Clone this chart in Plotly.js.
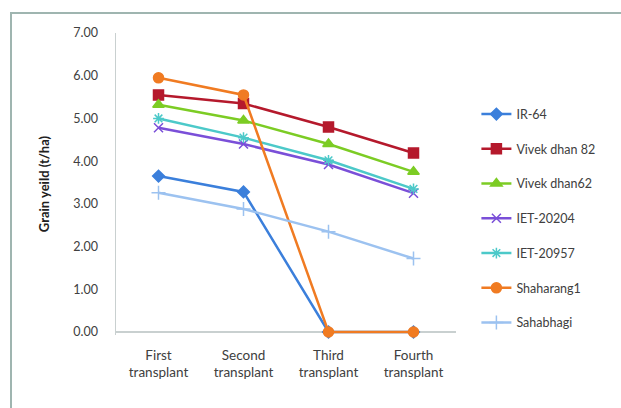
<!DOCTYPE html>
<html>
<head>
<meta charset="utf-8">
<script src="https://cdn.plot.ly/plotly-3.0.1.min.js"></script>
<style>
  html, body { margin: 0; padding: 0; background: #fff; }
  #wrap { position: relative; width: 621px; height: 408px; }
  #frame { position: absolute; left: 10px; top: 12px; right: -2px; bottom: -2px;
           border-top: 2px solid #9fb5b0; border-left: 2px solid #9fb5b0; pointer-events: none; }
  #chart { position: absolute; left: 0; top: 0; width: 621px; height: 408px; }
</style>
</head>
<body>
<div id="wrap">
  <div id="chart"></div>
  <div id="frame"></div>
</div>
<script>
// Transplanting stages
const stages = ["First<br>transplant", "Second<br>transplant", "Third<br>transplant", "Fourth<br>transplant"];

// Grain yield per variety (t/ha)
const ir64        = [3.65, 3.28, 0.00, 0.00];
const vivekDhan82 = [5.55, 5.35, 4.80, 4.19];
const vivekDhan62 = [5.32, 4.95, 4.40, 3.75];
const iet20204    = [4.78, 4.40, 3.92, 3.25];
const iet20957    = [5.00, 4.55, 4.02, 3.35];
const shaharang1  = [5.95, 5.55, 0.00, 0.00];
const sahabhagi   = [3.26, 2.88, 2.35, 1.72];

const varieties = [
  { name: "IR-64",          y: ir64,        color: "#3b7fdb", symbol: "diamond",     size: 9 },
  { name: "Vivek dhan 82",  y: vivekDhan82, color: "#b5192c", symbol: "square",      size: 10 },
  { name: "Vivek dhan62",   y: vivekDhan62, color: "#7ccc24", symbol: "triangle-up", size: 10 },
  { name: "IET-20204",      y: iet20204,    color: "#7a4fd8", symbol: "x-thin-open", size: 9 },
  { name: "IET-20957",      y: iet20957,    color: "#4cc9c9", symbol: "asterisk-open", size: 9 },
  { name: "Shaharang1",     y: shaharang1,  color: "#f07b22", symbol: "circle",      size: 10 },
  { name: "Sahabhagi",      y: sahabhagi,   color: "#9cc2f0", symbol: "cross-thin-open", size: 10 }
];

const traces = varieties.map((v, i) => ({
  type: "scatter",
  mode: "lines+markers",
  name: v.name,
  x: stages,
  y: v.y,
  cliponaxis: false,
  legendgroup: "g" + i,
  line: { color: v.color, width: 2.5 },
  marker: { color: v.color, symbol: v.symbol, size: v.size, line: { color: v.color, width: 1.5 } }
}));

const layout = {
  width: 621,
  height: 408,
  margin: { l: 116, r: 165, t: 33, b: 73 },
  paper_bgcolor: "#ffffff",
  plot_bgcolor: "#ffffff",
  font: { family: "Lato, 'Open Sans', sans-serif", color: "#404040", size: 12 },
  showlegend: true,
  legend: {
    x: 1.06, xanchor: "left",
    y: 0.78, yanchor: "top",
    traceorder: "grouped",
    tracegroupgap: 15.5,
    font: { size: 12.5, color: "#404040" },
    bgcolor: "rgba(0,0,0,0)"
  },
  xaxis: {
    type: "category",
    showgrid: false,
    zeroline: false,
    showline: false,
    ticks: "",
    ticklabelstandoff: 10,
    tickfont: { size: 13.5, color: "#404040" },
    range: [-0.5, 3.5]
  },
  yaxis: {
    range: [-0.07, 7],
    tickvals: [0, 1, 2, 3, 4, 5, 6, 7],
    tickformat: ".2f",
    showgrid: false,
    zeroline: true,
    zerolinecolor: "#c9d0d0",
    zerolinewidth: 1.5,
    showline: true,
    linecolor: "#c9d0d0",
    linewidth: 1.5,
    layer: "below traces",
    ticks: "",
    ticklabelstandoff: 14,
    tickfont: { size: 12.5, color: "#404040" },
    title: { text: "Grain yeild (t/ha)", font: { size: 13, color: "#202020", weight: "bold" }, standoff: 20 }
  }
};

Plotly.newPlot("chart", traces, layout, { displayModeBar: false, staticPlot: true });
</script>
</body>
</html>
